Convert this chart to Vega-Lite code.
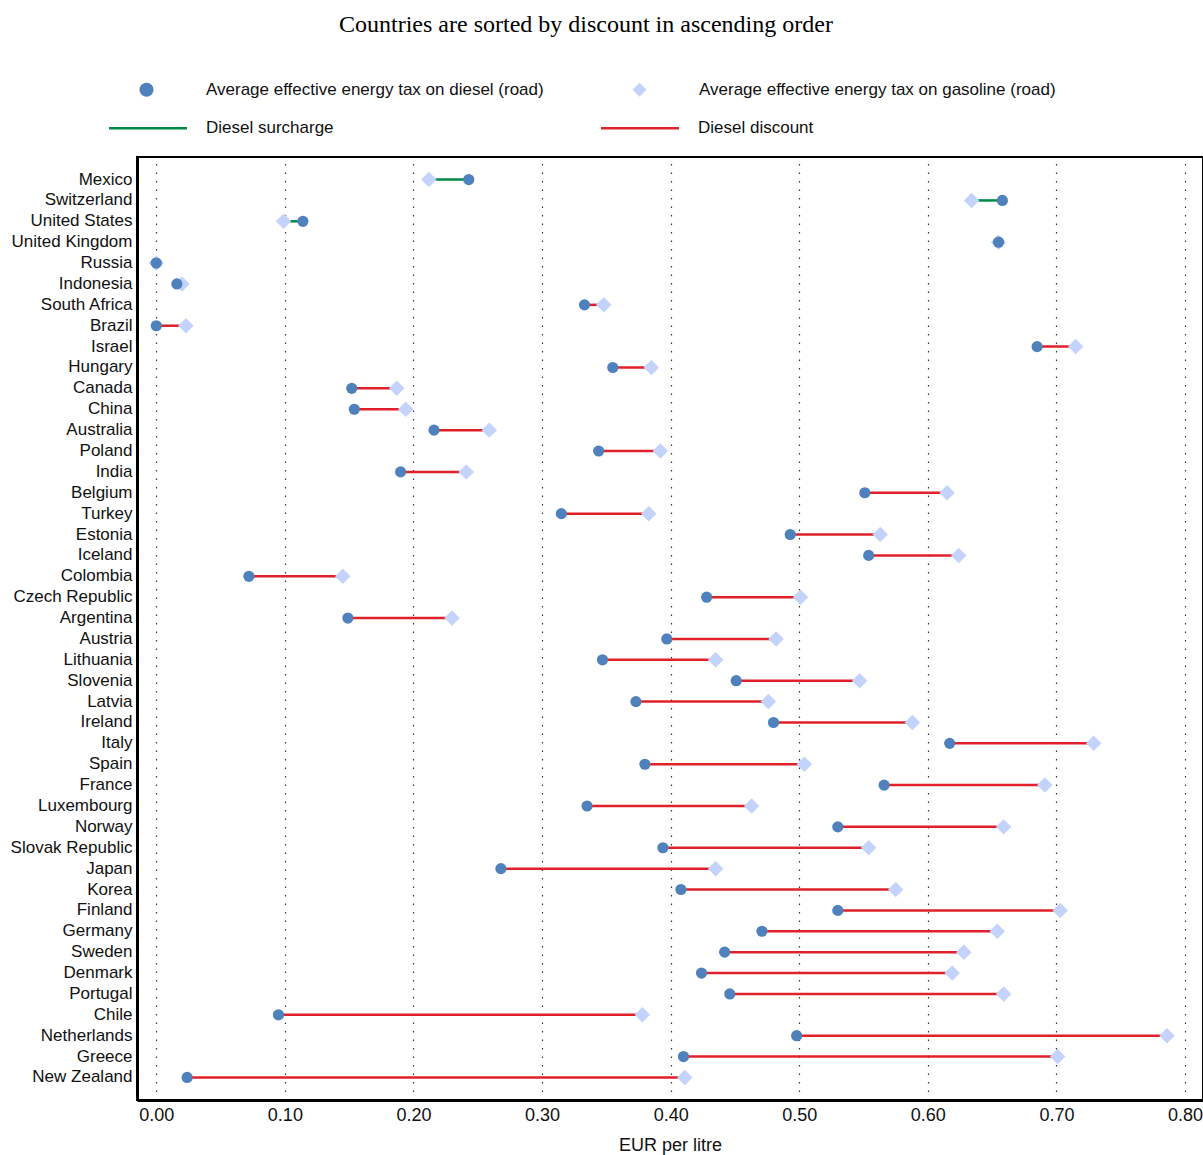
{
  "$schema": "https://vega.github.io/schema/vega-lite/v6.json",
  "width": 1066,
  "height": 943,
  "autosize": {"type": "none"},
  "padding": {"left": 137, "top": 157, "right": 0, "bottom": 55},
  "background": "white",
  "title": {
    "text": "Countries are sorted by discount in ascending order",
    "font": "Liberation Serif, Times New Roman, serif",
    "fontSize": 24,
    "fontWeight": "normal",
    "color": "black",
    "anchor": "start",
    "frame": "group",
    "dx": 202,
    "offset": 44
  },
  "config": {
    "view": {"stroke": "black", "strokeWidth": 2},
    "font": "Liberation Sans, Arial, sans-serif",
    "legend": {"padding": 0, "labelFontSize": 17, "labelColor": "#111", "labelFont": "Liberation Sans, Arial, sans-serif", "labelLimit": 0}
  },
  "data": {
    "values": [
      {"country": "Mexico", "diesel": 0.243, "gasoline": 0.212, "type": "Diesel surcharge"},
      {"country": "Switzerland", "diesel": 0.658, "gasoline": 0.634, "type": "Diesel surcharge"},
      {"country": "United States", "diesel": 0.114, "gasoline": 0.099, "type": "Diesel surcharge"},
      {"country": "United Kingdom", "diesel": 0.655, "gasoline": 0.655, "type": "Diesel discount"},
      {"country": "Russia", "diesel": 0.0, "gasoline": 0.0, "type": "Diesel discount"},
      {"country": "Indonesia", "diesel": 0.016, "gasoline": 0.020, "type": "Diesel discount"},
      {"country": "South Africa", "diesel": 0.333, "gasoline": 0.348, "type": "Diesel discount"},
      {"country": "Brazil", "diesel": 0.0, "gasoline": 0.023, "type": "Diesel discount"},
      {"country": "Israel", "diesel": 0.685, "gasoline": 0.715, "type": "Diesel discount"},
      {"country": "Hungary", "diesel": 0.355, "gasoline": 0.385, "type": "Diesel discount"},
      {"country": "Canada", "diesel": 0.152, "gasoline": 0.187, "type": "Diesel discount"},
      {"country": "China", "diesel": 0.154, "gasoline": 0.194, "type": "Diesel discount"},
      {"country": "Australia", "diesel": 0.216, "gasoline": 0.259, "type": "Diesel discount"},
      {"country": "Poland", "diesel": 0.344, "gasoline": 0.392, "type": "Diesel discount"},
      {"country": "India", "diesel": 0.190, "gasoline": 0.241, "type": "Diesel discount"},
      {"country": "Belgium", "diesel": 0.551, "gasoline": 0.615, "type": "Diesel discount"},
      {"country": "Turkey", "diesel": 0.315, "gasoline": 0.383, "type": "Diesel discount"},
      {"country": "Estonia", "diesel": 0.493, "gasoline": 0.563, "type": "Diesel discount"},
      {"country": "Iceland", "diesel": 0.554, "gasoline": 0.624, "type": "Diesel discount"},
      {"country": "Colombia", "diesel": 0.072, "gasoline": 0.145, "type": "Diesel discount"},
      {"country": "Czech Republic", "diesel": 0.428, "gasoline": 0.501, "type": "Diesel discount"},
      {"country": "Argentina", "diesel": 0.149, "gasoline": 0.230, "type": "Diesel discount"},
      {"country": "Austria", "diesel": 0.397, "gasoline": 0.482, "type": "Diesel discount"},
      {"country": "Lithuania", "diesel": 0.347, "gasoline": 0.435, "type": "Diesel discount"},
      {"country": "Slovenia", "diesel": 0.451, "gasoline": 0.547, "type": "Diesel discount"},
      {"country": "Latvia", "diesel": 0.373, "gasoline": 0.476, "type": "Diesel discount"},
      {"country": "Ireland", "diesel": 0.480, "gasoline": 0.588, "type": "Diesel discount"},
      {"country": "Italy", "diesel": 0.617, "gasoline": 0.729, "type": "Diesel discount"},
      {"country": "Spain", "diesel": 0.380, "gasoline": 0.504, "type": "Diesel discount"},
      {"country": "France", "diesel": 0.566, "gasoline": 0.691, "type": "Diesel discount"},
      {"country": "Luxembourg", "diesel": 0.335, "gasoline": 0.463, "type": "Diesel discount"},
      {"country": "Norway", "diesel": 0.530, "gasoline": 0.659, "type": "Diesel discount"},
      {"country": "Slovak Republic", "diesel": 0.394, "gasoline": 0.554, "type": "Diesel discount"},
      {"country": "Japan", "diesel": 0.268, "gasoline": 0.435, "type": "Diesel discount"},
      {"country": "Korea", "diesel": 0.408, "gasoline": 0.575, "type": "Diesel discount"},
      {"country": "Finland", "diesel": 0.530, "gasoline": 0.703, "type": "Diesel discount"},
      {"country": "Germany", "diesel": 0.471, "gasoline": 0.654, "type": "Diesel discount"},
      {"country": "Sweden", "diesel": 0.442, "gasoline": 0.628, "type": "Diesel discount"},
      {"country": "Denmark", "diesel": 0.424, "gasoline": 0.619, "type": "Diesel discount"},
      {"country": "Portugal", "diesel": 0.446, "gasoline": 0.659, "type": "Diesel discount"},
      {"country": "Chile", "diesel": 0.095, "gasoline": 0.378, "type": "Diesel discount"},
      {"country": "Netherlands", "diesel": 0.498, "gasoline": 0.786, "type": "Diesel discount"},
      {"country": "Greece", "diesel": 0.410, "gasoline": 0.701, "type": "Diesel discount"},
      {"country": "New Zealand", "diesel": 0.024, "gasoline": 0.411, "type": "Diesel discount"}
    ]
  },
  "encoding": {
    "y": {
      "field": "country",
      "type": "nominal",
      "sort": null,
      "scale": {"type": "band", "paddingInner": 0, "paddingOuter": 0.58},
      "axis": {
        "title": null,
        "ticks": false,
        "domainColor": "black",
        "domainWidth": 3,
        "labelFontSize": 17,
        "labelColor": "#111",
        "labelPadding": 5,
        "labelLimit": 0
      }
    }
  },
  "layer": [
    {
      "mark": {"type": "rule", "strokeWidth": 2.5},
      "encoding": {
        "x": {
          "field": "diesel",
          "type": "quantitative",
          "scale": {"domain": [-0.015, 0.814], "nice": false, "zero": false},
          "axis": {
            "title": "EUR per litre",
            "values": [0, 0.1, 0.2, 0.3, 0.4, 0.5, 0.6, 0.7, 0.8],
            "format": ".2f",
            "grid": true,
            "gridDash": [1.5, 7],
            "gridColor": "#333",
            "gridWidth": 1.2,
            "ticks": false,
            "domainColor": "black",
            "domainWidth": 3,
            "labelFontSize": 18,
            "labelColor": "#111",
            "labelPadding": 6,
            "labelFlush": false,
            "titleFontSize": 18,
            "titleFontWeight": "normal",
            "titleColor": "#111",
            "titlePadding": 12
          }
        },
        "x2": {"field": "gasoline"},
        "stroke": {
          "field": "type",
          "type": "nominal",
          "scale": {"domain": ["Diesel surcharge", "Diesel discount"], "range": ["#008a45", "#e0202a"]},
          "legend": {
            "orient": "none",
            "legendX": -29.5,
            "legendY": -69.5,
            "direction": "horizontal",
            "title": null,
            "symbolType": "stroke",
            "symbolSize": 6084,
            "symbolStrokeWidth": 2.5,
            "labelOffset": 17.5,
            "columnPadding": 261
          }
        }
      }
    },
    {
      "mark": {"type": "point", "shape": "diamond", "filled": true, "size": 240, "opacity": 1},
      "encoding": {
        "x": {"field": "gasoline", "type": "quantitative"},
        "color": {
          "datum": "Average effective energy tax on gasoline (road)",
          "type": "nominal",
          "scale": {
            "domain": ["Average effective energy tax on diesel (road)", "Average effective energy tax on gasoline (road)"],
            "range": ["#4f81bd", "#c3d3fb"]
          },
          "legend": {
            "orient": "none",
            "legendX": 1,
            "legendY": -76,
            "direction": "horizontal",
            "title": null,
            "symbolSize": 200,
            "symbolOpacity": 1,
            "labelOffset": 51,
            "columnPadding": 87,
            "encode": {
              "symbols": {
                "update": {
                  "shape": {"signal": "datum.value === 'Average effective energy tax on gasoline (road)' ? 'diamond' : 'circle'"}
                }
              }
            }
          }
        }
      }
    },
    {
      "mark": {"type": "point", "shape": "circle", "filled": true, "size": 125, "opacity": 1},
      "encoding": {
        "x": {"field": "diesel", "type": "quantitative"},
        "color": {
          "datum": "Average effective energy tax on diesel (road)",
          "type": "nominal"
        }
      }
    }
  ]
}
